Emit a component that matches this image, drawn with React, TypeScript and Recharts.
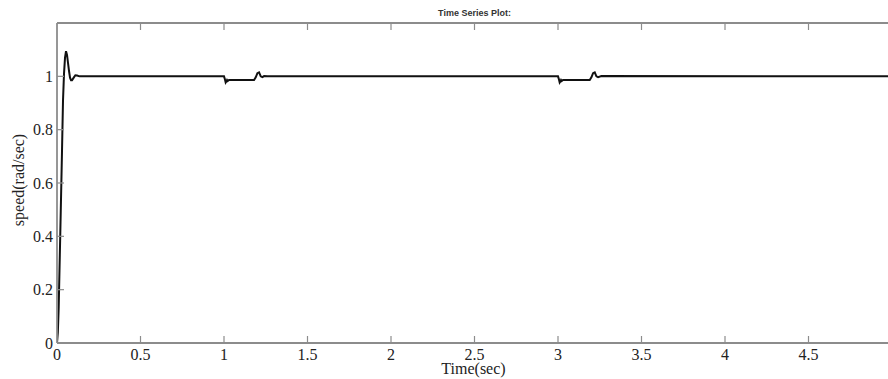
import React from "react";
import { LineChart, Line, XAxis, YAxis, Label } from "recharts";

const timeValues: number[] = [
  0, 0.005, 0.01, 0.02, 0.03, 0.036, 0.042, 0.048, 0.054, 0.06, 0.066, 0.072, 0.078, 0.084, 0.09, 0.1, 0.11, 0.12, 0.135, 0.15,
  1.0, 1.005, 1.01, 1.014, 1.018, 1.022, 1.03, 1.18, 1.19, 1.2, 1.21, 1.22, 1.23, 1.24, 1.26,
  3.0, 3.005, 3.01, 3.014, 3.018, 3.022, 3.03, 3.19, 3.2, 3.21, 3.22, 3.23, 3.24, 3.26,
  5.0,
];
const speedValues: number[] = [
  0, 0.04, 0.13, 0.42, 0.72, 0.91, 1.01, 1.07, 1.094, 1.08, 1.05, 1.02, 0.995, 0.985, 0.985, 0.995, 1.004, 1.003, 1.0, 1.0,
  1.0, 0.99, 0.977, 0.981, 0.986, 0.982, 0.986, 0.986, 0.996, 1.012, 1.015, 1.0, 0.997, 1.001, 1.0,
  1.0, 0.99, 0.977, 0.981, 0.986, 0.982, 0.986, 0.986, 0.996, 1.012, 1.015, 1.0, 0.997, 1.001, 1.0,
  1.0,
];
const xTicks: number[] = [0, 0.5, 1, 1.5, 2, 2.5, 3, 3.5, 4, 4.5];
const yTicks: number[] = [0, 0.2, 0.4, 0.6, 0.8, 1];
const titleText = "Time Series Plot:";
const xLabelText = "Time(sec)";
const yLabelText = "speed(rad/sec)";

const data = timeValues.map((t, i) => ({ t, speed: speedValues[i] }));

const AXIS_COLOR = "#8c8c8c";
const TEXT_COLOR = "#222";
const SERIF = "'Liberation Serif', 'Times New Roman', serif";
const TICK_LEN = 7;
const serifStyle: React.CSSProperties = { fontFamily: SERIF, fontSize: 16, fill: TEXT_COLOR };

const BottomTick = (props: any) => {
  const { x, y, payload } = props;
  return (
    <g>
      {payload.value !== 0 && (
        <line x1={x} y1={y} x2={x} y2={y - TICK_LEN} stroke={AXIS_COLOR} strokeWidth={1.2} />
      )}
      <text x={x} y={y + 17} textAnchor="middle" style={serifStyle}>
        {String(payload.value)}
      </text>
    </g>
  );
};

const TopTick = (props: any) => {
  const { x, y, payload } = props;
  if (payload.value === 0) return <g />;
  return <line x1={x} y1={y} x2={x} y2={y + TICK_LEN} stroke={AXIS_COLOR} strokeWidth={1.2} />;
};

const LeftTick = (props: any) => {
  const { x, y, payload } = props;
  return (
    <g>
      {payload.value !== 0 && (
        <line x1={x} y1={y} x2={x + TICK_LEN} y2={y} stroke={AXIS_COLOR} strokeWidth={1.2} />
      )}
      <text x={x - 4} y={y + 5.5} textAnchor="end" style={serifStyle}>
        {String(payload.value)}
      </text>
    </g>
  );
};

export default function App() {
  return (
    <div
      style={{
        position: "fixed",
        left: 0,
        top: 0,
        width: 888,
        height: 379,
        overflow: "hidden",
        background: "#fff",
      }}
    >
      <LineChart width={900} height={379} data={data} margin={{ top: 3, right: 8, bottom: 2, left: 0 }}>
        <XAxis
          xAxisId="top"
          orientation="top"
          dataKey="t"
          type="number"
          domain={[0, 5]}
          ticks={xTicks}
          height={20}
          tickSize={0}
          tickMargin={0}
          tickLine={false}
          axisLine={{ stroke: AXIS_COLOR, strokeWidth: 1.8 }}
          tick={<TopTick />}
          interval={0}
          allowDataOverflow
        >
          <Label
            content={(p: any) => {
              const vb = p.viewBox || { x: 57, width: 835, y: 3 };
              return (
                <text
                  x={vb.x + vb.width / 2}
                  y={16}
                  textAnchor="middle"
                  style={{
                    fontFamily: "'Liberation Sans', Arial, sans-serif",
                    fontWeight: "bold",
                    fontSize: 9,
                    fill: "#333",
                  }}
                >
                  {titleText}
                </text>
              );
            }}
          />
        </XAxis>
        <XAxis
          dataKey="t"
          type="number"
          domain={[0, 5]}
          ticks={xTicks}
          height={34}
          tickSize={0}
          tickMargin={0}
          tickLine={false}
          axisLine={{ stroke: AXIS_COLOR, strokeWidth: 1.8 }}
          tick={<BottomTick />}
          interval={0}
          allowDataOverflow
        >
          <Label
            content={(p: any) => {
              const vb = p.viewBox || { x: 57, width: 835, y: 343 };
              return (
                <text x={vb.x + vb.width / 2 - 1} y={vb.y + 31} textAnchor="middle" style={serifStyle}>
                  {xLabelText}
                </text>
              );
            }}
          />
        </XAxis>
        <YAxis
          type="number"
          domain={[0, 1.2]}
          ticks={yTicks}
          width={57}
          tickSize={0}
          tickMargin={0}
          tickLine={false}
          axisLine={{ stroke: AXIS_COLOR, strokeWidth: 1.8 }}
          tick={<LeftTick />}
          interval={0}
          allowDataOverflow
        >
          <Label
            content={(p: any) => {
              const vb = p.viewBox || { x: 0, y: 23, height: 320 };
              const cy = vb.y + vb.height / 2 - 3;
              return (
                <text
                  x={18}
                  y={cy}
                  transform={`rotate(-90 18 ${cy})`}
                  textAnchor="middle"
                  dominantBaseline="central"
                  style={serifStyle}
                >
                  {yLabelText}
                </text>
              );
            }}
          />
        </YAxis>
        <Line
          type="linear"
          dataKey="speed"
          stroke="#111"
          strokeWidth={2}
          dot={false}
          activeDot={false}
          isAnimationActive={false}
        />
      </LineChart>
    </div>
  );
}
